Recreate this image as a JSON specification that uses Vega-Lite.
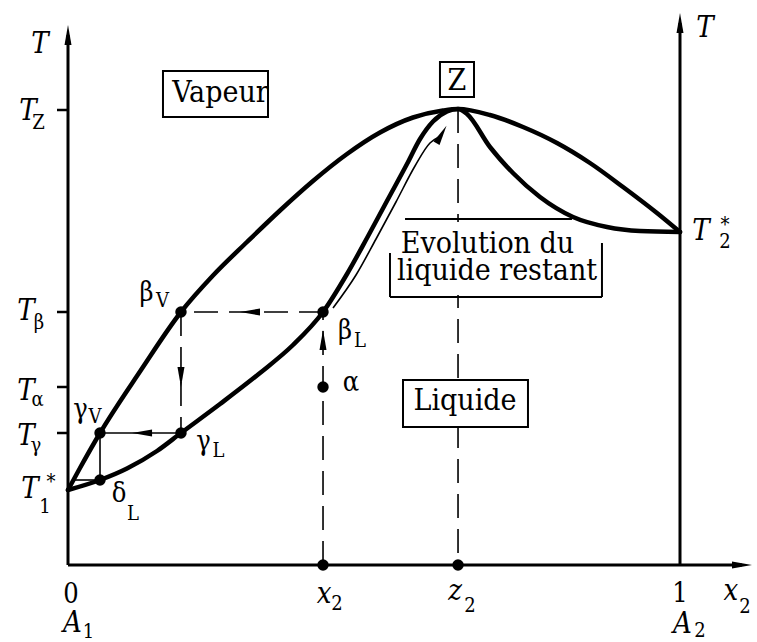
{
  "$schema": "https://vega.github.io/schema/vega-lite/v6.json",
  "width": 757,
  "height": 642,
  "autosize": "none",
  "padding": 0,
  "background": "white",
  "config": {"view": {"stroke": null}, "font": "DejaVu Serif Condensed, DejaVu Serif"},
  "datasets": {
    "curves": [
      {"curve": "vapeur", "x": 0, "T": 15.0},
      {"curve": "vapeur", "x": 0.0196, "T": 19.4},
      {"curve": "vapeur", "x": 0.0523, "T": 26.4},
      {"curve": "vapeur", "x": 0.1182, "T": 38.8},
      {"curve": "vapeur", "x": 0.1846, "T": 50.6},
      {"curve": "vapeur", "x": 0.2369, "T": 57.9},
      {"curve": "vapeur", "x": 0.2925, "T": 64.6},
      {"curve": "vapeur", "x": 0.3464, "T": 70.9},
      {"curve": "vapeur", "x": 0.4003, "T": 76.8},
      {"curve": "vapeur", "x": 0.4559, "T": 82.2},
      {"curve": "vapeur", "x": 0.5098, "T": 86.5},
      {"curve": "vapeur", "x": 0.5637, "T": 89.5},
      {"curve": "vapeur", "x": 0.6127, "T": 90.9},
      {"curve": "vapeur", "x": 0.6373, "T": 91.2},
      {"curve": "vapeur", "x": 0.6895, "T": 90.0},
      {"curve": "vapeur", "x": 0.7435, "T": 87.6},
      {"curve": "vapeur", "x": 0.799, "T": 84.4},
      {"curve": "vapeur", "x": 0.8529, "T": 80.4},
      {"curve": "vapeur", "x": 0.9069, "T": 75.6},
      {"curve": "vapeur", "x": 0.9624, "T": 70.4},
      {"curve": "vapeur", "x": 1.0, "T": 66.6},
      {"curve": "liquide", "x": 0, "T": 15.0},
      {"curve": "liquide", "x": 0.0523, "T": 17.0},
      {"curve": "liquide", "x": 0.0964, "T": 19.3},
      {"curve": "liquide", "x": 0.1454, "T": 22.8},
      {"curve": "liquide", "x": 0.1846, "T": 26.4},
      {"curve": "liquide", "x": 0.2484, "T": 32.2},
      {"curve": "liquide", "x": 0.3137, "T": 38.4},
      {"curve": "liquide", "x": 0.3676, "T": 44.0},
      {"curve": "liquide", "x": 0.4167, "T": 50.6},
      {"curve": "liquide", "x": 0.4559, "T": 58.2},
      {"curve": "liquide", "x": 0.4886, "T": 65.4},
      {"curve": "liquide", "x": 0.5212, "T": 72.8},
      {"curve": "liquide", "x": 0.5539, "T": 80.2},
      {"curve": "liquide", "x": 0.5752, "T": 85.2},
      {"curve": "liquide", "x": 0.5964, "T": 88.7},
      {"curve": "liquide", "x": 0.6193, "T": 90.7},
      {"curve": "liquide", "x": 0.6373, "T": 91.2},
      {"curve": "liquide", "x": 0.652, "T": 90.2},
      {"curve": "liquide", "x": 0.6895, "T": 83.6},
      {"curve": "liquide", "x": 0.7271, "T": 78.4},
      {"curve": "liquide", "x": 0.7712, "T": 73.6},
      {"curve": "liquide", "x": 0.8252, "T": 69.6},
      {"curve": "liquide", "x": 0.8807, "T": 67.6},
      {"curve": "liquide", "x": 0.9346, "T": 66.8},
      {"curve": "liquide", "x": 1.0, "T": 66.6}
    ],
    "evolution": [
      {"x": 0.433, "T": 51.4},
      {"x": 0.4706, "T": 58.0},
      {"x": 0.5033, "T": 65.2},
      {"x": 0.5359, "T": 72.6},
      {"x": 0.567, "T": 79.8},
      {"x": 0.5915, "T": 84.4},
      {"x": 0.6062, "T": 85.6}
    ],
    "dashed": [
      {"x": 0.4167, "T": 50.6, "x2": 0.1846, "T2": 50.6},
      {"x": 0.1846, "T": 50.6, "x2": 0.1846, "T2": 26.4},
      {"x": 0.4167, "T": 0, "x2": 0.4167, "T2": 50.6},
      {"x": 0.6373, "T": 91.2, "x2": 0.6373, "T2": 0}
    ],
    "thin": [
      {"x": 0.1846, "T": 26.4, "x2": 0.0523, "T2": 26.4},
      {"x": 0.0523, "T": 26.4, "x2": 0.0523, "T2": 17.0},
      {"x": 0.0115, "T": 17.0, "x2": 0.0523, "T2": 17.0}
    ],
    "axes": [
      {"x": 0, "T": 0, "x2": 0, "T2": 106},
      {"x": 1, "T": 0, "x2": 1, "T2": 108.4},
      {"x": 0, "T": 0, "x2": 1.1013, "T2": 0}
    ],
    "ticks": [
      {"x": -0.018, "T": 91.0, "x2": 0, "T2": 91.0},
      {"x": -0.018, "T": 50.6, "x2": 0, "T2": 50.6},
      {"x": -0.018, "T": 35.6, "x2": 0, "T2": 35.6},
      {"x": -0.018, "T": 26.4, "x2": 0, "T2": 26.4}
    ],
    "boxes": [
      {"x": 0.1552, "T": 98.8, "x2": 0.3268, "T2": 89.6},
      {"x": 0.6078, "T": 100.6, "x2": 0.6634, "T2": 93.6},
      {"x": 0.5474, "T": 37.0, "x2": 0.7516, "T2": 27.6}
    ],
    "mask": [
      {"x": 0.5392, "T": 68.6, "x2": 0.8693, "T2": 54.0}
    ],
    "frame": [
      {"x": 0.5507, "T": 69.2, "x2": 0.8235, "T2": 69.2},
      {"x": 0.5261, "T": 62.4, "x2": 0.5261, "T2": 53.6},
      {"x": 0.5261, "T": 53.6, "x2": 0.8725, "T2": 53.6},
      {"x": 0.8725, "T": 64.4, "x2": 0.8725, "T2": 53.6}
    ],
    "arrows": [
      {"x": 0, "T": 106, "dir": "up"},
      {"x": 1, "T": 108.4, "dir": "up"},
      {"x": 1.1013, "T": 0, "dir": "right"},
      {"x": 0.2974, "T": 50.6, "dir": "left"},
      {"x": 0.1846, "T": 37.6, "dir": "down"},
      {"x": 0.121, "T": 26.4, "dir": "left"},
      {"x": 0.4167, "T": 45.0, "dir": "up"},
      {"x": 0.6103, "T": 86.1, "dir": "upright"}
    ],
    "dots": [
      {"name": "beta_V", "x": 0.1846, "T": 50.6},
      {"name": "beta_L", "x": 0.4167, "T": 50.6},
      {"name": "gamma_V", "x": 0.0523, "T": 26.4},
      {"name": "gamma_L", "x": 0.1846, "T": 26.4},
      {"name": "delta_L", "x": 0.0523, "T": 17.0},
      {"name": "alpha", "x": 0.4167, "T": 35.6},
      {"name": "x2", "x": 0.4167, "T": 0},
      {"name": "z2", "x": 0.6373, "T": 0}
    ],
    "boxText": [
      {"text": "Vapeur", "x": 0.2492, "T": 92.6},
      {"text": "Z", "x": 0.6356, "T": 95.0},
      {"text": "Liquide", "x": 0.6487, "T": 31.0},
      {"text": "Evolution du", "x": 0.6854, "T": 62.4},
      {"text": "liquide restant", "x": 0.701, "T": 57.0}
    ],
    "italic": [
      {"text": "T", "x": -0.0458, "T": 102.4},
      {"text": "T", "x": -0.0654, "T": 89.0},
      {"text": "T", "x": -0.0686, "T": 49.0},
      {"text": "T", "x": -0.0686, "T": 33.0},
      {"text": "T", "x": -0.0686, "T": 24.0},
      {"text": "T", "x": -0.0621, "T": 13.4},
      {"text": "T", "x": 1.0408, "T": 105.6},
      {"text": "T", "x": 1.0343, "T": 65.0},
      {"text": "A", "x": 0.0074, "T": -13.4},
      {"text": "A", "x": 1.0041, "T": -13.6},
      {"text": "x", "x": 0.4183, "T": -7.6},
      {"text": "z", "x": 0.6324, "T": -7.0},
      {"text": "x", "x": 1.0833, "T": -7.0}
    ],
    "roman": [
      {"text": "0", "x": 0.0049, "T": -7.6},
      {"text": "1", "x": 1.0, "T": -7.4}
    ],
    "greek": [
      {"text": "β", "x": 0.1283, "T": 52.8},
      {"text": "γ", "x": 0.0204, "T": 29.4},
      {"text": "γ", "x": 0.2214, "T": 23.0},
      {"text": "δ", "x": 0.0833, "T": 12.6},
      {"text": "β", "x": 0.4526, "T": 45.2},
      {"text": "α", "x": 0.4624, "T": 34.8}
    ],
    "sub": [
      {"text": "Z", "x": -0.0482, "T": 87.2},
      {"text": "β", "x": -0.0474, "T": 47.2},
      {"text": "α", "x": -0.0498, "T": 31.8},
      {"text": "γ", "x": -0.0523, "T": 22.6},
      {"text": "*", "x": -0.0278, "T": 15.4},
      {"text": "1", "x": -0.0376, "T": 10.4},
      {"text": "*", "x": 1.0735, "T": 66.8},
      {"text": "2", "x": 1.0735, "T": 63.4},
      {"text": "1", "x": 0.0335, "T": -14.6},
      {"text": "2", "x": 1.0327, "T": -14.4},
      {"text": "2", "x": 0.4395, "T": -9.0},
      {"text": "2", "x": 0.6569, "T": -9.4},
      {"text": "2", "x": 1.1062, "T": -9.6},
      {"text": "V", "x": 0.1544, "T": 51.6},
      {"text": "V", "x": 0.0441, "T": 28.4},
      {"text": "L", "x": 0.2459, "T": 21.6},
      {"text": "L", "x": 0.1062, "T": 9.0},
      {"text": "L", "x": 0.4771, "T": 43.6}
    ]
  },
  "encoding": {
    "x": {"field": "x", "type": "quantitative", "scale": {"domain": [-0.11111, 1.12582], "nice": false, "zero": false}, "axis": null},
    "y": {"field": "T", "type": "quantitative", "scale": {"domain": [-15.4, 113], "nice": false, "zero": false}, "axis": null}
  },
  "layer": [
    {
      "data": {"name": "dashed"},
      "mark": {"type": "rule", "color": "black", "strokeWidth": 1.6, "strokeDash": [24, 11]},
      "encoding": {"x2": {"field": "x2"}, "y2": {"field": "T2"}}
    },
    {
      "data": {"name": "thin"},
      "mark": {"type": "rule", "color": "black", "strokeWidth": 1.6},
      "encoding": {"x2": {"field": "x2"}, "y2": {"field": "T2"}}
    },
    {
      "data": {"name": "axes"},
      "mark": {"type": "rule", "color": "black", "strokeWidth": 3},
      "encoding": {"x2": {"field": "x2"}, "y2": {"field": "T2"}}
    },
    {
      "data": {"name": "ticks"},
      "mark": {"type": "rule", "color": "black", "strokeWidth": 2.5},
      "encoding": {"x2": {"field": "x2"}, "y2": {"field": "T2"}}
    },
    {
      "data": {"name": "mask"},
      "mark": {"type": "rect", "fill": "white", "stroke": null},
      "encoding": {"x2": {"field": "x2"}, "y2": {"field": "T2"}}
    },
    {
      "data": {"name": "boxes"},
      "mark": {"type": "rect", "fill": "white", "stroke": "black", "strokeWidth": 2},
      "encoding": {"x2": {"field": "x2"}, "y2": {"field": "T2"}}
    },
    {
      "data": {"name": "frame"},
      "mark": {"type": "rule", "color": "black", "strokeWidth": 2},
      "encoding": {"x2": {"field": "x2"}, "y2": {"field": "T2"}}
    },
    {
      "data": {"name": "curves"},
      "mark": {"type": "line", "color": "black", "strokeWidth": 4.5, "interpolate": "monotone", "strokeCap": "round", "strokeJoin": "round"},
      "encoding": {"detail": {"field": "curve", "type": "nominal"}}
    },
    {
      "data": {"name": "evolution"},
      "mark": {"type": "line", "color": "black", "strokeWidth": 1.6, "interpolate": "monotone"},
      "encoding": {}
    },
    {
      "data": {"name": "arrows"},
      "mark": {"type": "point", "filled": true, "size": 400, "color": "black", "opacity": 1, "strokeWidth": 0},
      "encoding": {
        "shape": {
          "field": "dir",
          "type": "nominal",
          "legend": null,
          "scale": {
            "domain": ["up", "down", "left", "right", "upright"],
            "range": [
              "M0,-1L0.35,1L-0.35,1Z",
              "M0,1L0.35,-1L-0.35,-1Z",
              "M-1,0L1,0.35L1,-0.35Z",
              "M1,0L-1,0.35L-1,-0.35Z",
              "M0.5,-0.866L-0.197,1.041L-0.803,0.691Z"
            ]
          }
        }
      }
    },
    {
      "data": {"name": "dots"},
      "mark": {"type": "point", "shape": "circle", "filled": true, "size": 130, "color": "black", "opacity": 1}
    },
    {
      "data": {"name": "boxText"},
      "mark": {"type": "text", "font": "DejaVu Serif Condensed, DejaVu Serif", "fontSize": 30, "align": "center", "baseline": "alphabetic", "color": "black"},
      "encoding": {"text": {"field": "text"}}
    },
    {
      "data": {"name": "italic"},
      "mark": {"type": "text", "font": "DejaVu Serif Condensed, DejaVu Serif", "fontStyle": "italic", "fontSize": 29, "align": "center", "baseline": "alphabetic", "color": "black"},
      "encoding": {"text": {"field": "text"}}
    },
    {
      "data": {"name": "roman"},
      "mark": {"type": "text", "font": "DejaVu Serif Condensed, DejaVu Serif", "fontSize": 27, "align": "center", "baseline": "alphabetic", "color": "black"},
      "encoding": {"text": {"field": "text"}}
    },
    {
      "data": {"name": "greek"},
      "mark": {"type": "text", "font": "DejaVu Serif Condensed, DejaVu Serif", "fontSize": 27, "align": "center", "baseline": "alphabetic", "color": "black"},
      "encoding": {"text": {"field": "text"}}
    },
    {
      "data": {"name": "sub"},
      "mark": {"type": "text", "font": "DejaVu Serif Condensed, DejaVu Serif", "fontSize": 20, "align": "center", "baseline": "alphabetic", "color": "black"},
      "encoding": {"text": {"field": "text"}}
    }
  ]
}
